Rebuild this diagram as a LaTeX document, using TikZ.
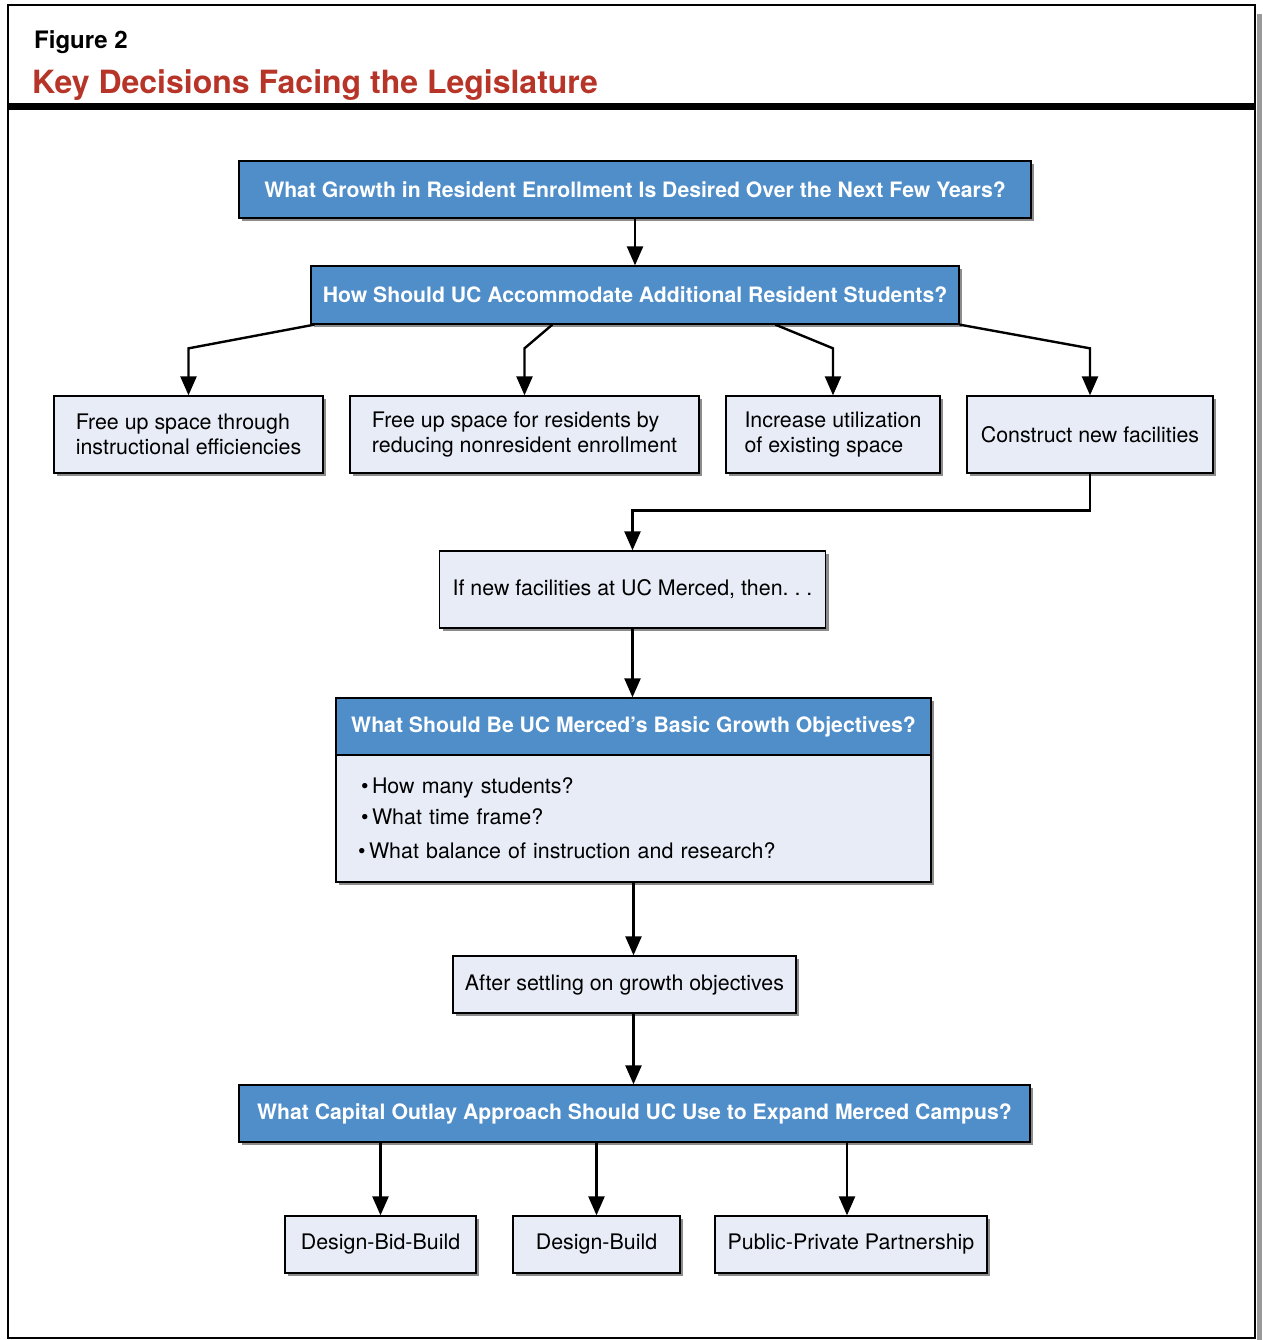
\documentclass[tikz,border=0pt]{standalone}
\usepackage{fontspec}
\setmainfont{TeX Gyre Heros}
\usepackage{tikz}
\usetikzlibrary{arrows.meta,shadows}
\definecolor{lablue}{RGB}{80,142,202}
\definecolor{lalight}{RGB}{232,236,247}
\definecolor{lared}{RGB}{183,52,40}

\begin{document}
\begin{tikzpicture}[x=1pt,y=-1pt,
  shd/.style={drop shadow={shadow xshift=3pt,shadow yshift=-3pt,fill=black!45,opacity=1}},
  hdr/.style={draw,line width=1.3pt,fill=lablue,text=white,inner sep=0pt,minimum height=57pt,
              font=\bfseries\fontsize{21.2}{25}\selectfont,shd},
  opt/.style={draw,line width=1.3pt,fill=lalight,inner sep=0pt,minimum height=77pt,align=left,
              font=\fontsize{21.4}{25}\selectfont,shd},
  ar/.style={-{Triangle[length=19pt,width=16pt]},line width=2.4pt}
]
\useasboundingbox (0,0) rectangle (1262,1340);
% frame and heading
\fill[black!40] (1256.5,14) rectangle (1262,1340);
\draw[line width=2.6pt] (8,5) rectangle (1255,1338);
\fill (8,103) rectangle (1255,110.5);
\node[anchor=base west,inner sep=0pt,font=\bfseries\fontsize{24}{28}\selectfont] (fig) at (34,49) {Figure 2};
\node[anchor=base west,inner sep=0pt,text=lared,font=\bfseries\fontsize{32}{36}\selectfont] (ttl) at (32,94)
  {Key Decisions Facing the Legislature};

% enrollment questions
\node[hdr,minimum width=792pt] (top) at (635,189.5) {What Growth in Resident Enrollment Is Desired Over the Next Few Years?};
\node[hdr,minimum width=648pt,minimum height=58pt] (how) at (635,295) {How Should UC Accommodate Additional Resident Students?};
\node[opt,minimum width=269pt] (free1) at (188.5,434.5) {Free up space through\\instructional efficiencies};
\node[opt,minimum width=349pt] (free2) at (524.5,434.5) {Free up space for residents by\\reducing nonresident enrollment};
\node[opt,minimum width=214pt] (util) at (833,434.5) {Increase utilization\\of existing space};
\node[opt,minimum width=246pt] (build) at (1090,434.5) {Construct new facilities};

% Merced
\node[opt,minimum width=386pt] (ifnew) at (632.5,589.5) {If new facilities at UC Merced, then.\ .\ .};
\node[hdr,minimum width=595pt] (goalhdr) at (633.5,726.5) {What Should Be UC Merced's Basic Growth Objectives?};
\node[opt,minimum width=595pt,minimum height=127pt,text width=545pt] (goalbody) at (633.5,818.5)
  {\textbullet\,How many students?\\[6pt]
   \textbullet\,What time frame?\\[9pt]
   \hspace*{-3pt}\textbullet\,What balance of instruction and research?};
\node[opt,minimum width=343pt,minimum height=57pt] (after) at (624.5,984.5) {After settling on growth objectives};

% capital outlay
\node[hdr,minimum width=791pt] (capital) at (634.5,1113.5) {What Capital Outlay Approach Should UC Use to Expand Merced Campus?};
\node[opt,minimum width=191pt,minimum height=57pt] (dbb) at (380.5,1244.5) {Design-Bid-Build};
\node[opt,minimum width=167pt,minimum height=57pt] (db) at (596.5,1244.5) {Design-Build};
\node[opt,minimum width=272pt,minimum height=57pt] (ppp) at (851,1244.5) {Public-Private Partnership};

\draw[ar] (top) -- (how);
\draw[ar] ([xshift=4pt]how.south west) -- ([yshift=47pt]free1.north) -- (free1.north);
\draw[ar] ([xshift=242pt]how.south west) -- ([yshift=47pt]free2.north) -- (free2.north);
\draw[ar] ([xshift=465pt]how.south west) -- ([yshift=47pt]util.north) -- (util.north);
\draw[ar] (how.south east) -- ([yshift=47pt]build.north) -- (build.north);
\draw[ar] (build.south) -- ++(0,37) -| (ifnew.north);
\draw[ar] (ifnew.south) -- (ifnew.south |- goalhdr.north);
\draw[ar] (goalbody.south) -- (goalbody.south |- after.north);
\draw[ar] (after.south -| goalbody.south) -- (capital.north -| goalbody.south);
\draw[ar] (capital.south -| dbb.north) -- (dbb.north);
\draw[ar] (capital.south -| db.north) -- (db.north);
\draw[ar] ([xshift=-4pt]capital.south -| ppp.north) -- ([xshift=-4pt]ppp.north);
\end{tikzpicture}
\end{document}
